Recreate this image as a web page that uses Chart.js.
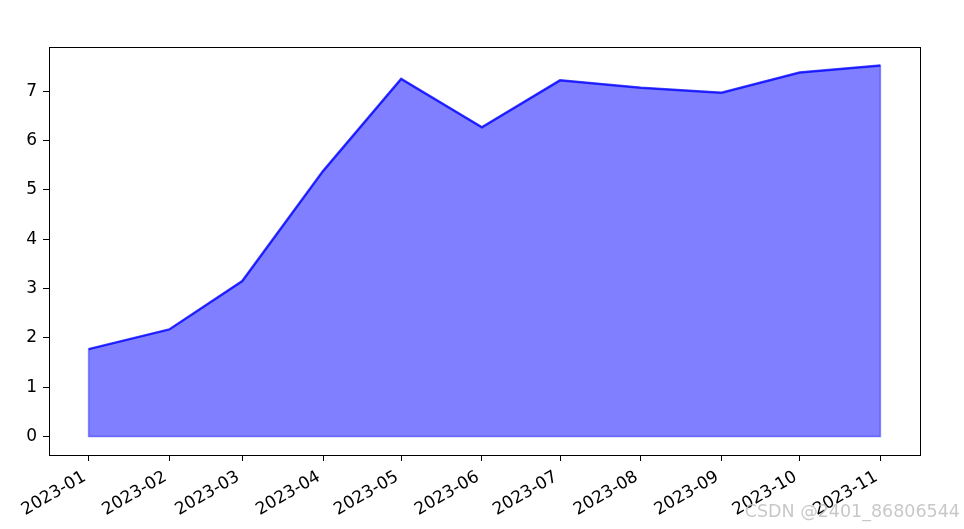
<!DOCTYPE html>
<html>
<head>
<meta charset="utf-8">
<script src="https://cdn.jsdelivr.net/npm/chart.js@4/dist/chart.umd.min.js"></script>
<style>
  html, body { margin: 0; padding: 0; background: #fff; }
  #wrap { position: relative; width: 964px; height: 529px; }
  #wm { position: absolute; right: 4px; top: 501px; font-family: "DejaVu Sans", sans-serif; font-size: 17.5px; color: rgba(190,190,190,0.85); white-space: nowrap; }
</style>
</head>
<body>
<div id="wrap">
  <canvas id="c" width="964" height="529"></canvas>
  <div id="wm">CSDN @2401_86806544</div>
</div>
<script>
const months = ['2023-01','2023-02','2023-03','2023-04','2023-05','2023-06','2023-07','2023-08','2023-09','2023-10','2023-11'];
const values = [1.77, 2.17, 3.15, 5.38, 7.25, 6.27, 7.22, 7.07, 6.97, 7.38, 7.52];
const yTicks = [0, 1, 2, 3, 4, 5, 6, 7];

const base = Date.UTC(2023, 0, 1);
const dayOf = s => { const [y, m] = s.split('-').map(Number); return (Date.UTC(y, m - 1, 1) - base) / 86400000; };
const days = months.map(dayOf);
const span = days[days.length - 1] - days[0];
const points = days.map((d, i) => ({ x: d, y: values[i] }));
const vmax = Math.max(...values);
const last = days.length - 1;
const edgePts = [
  { x: days[0], y: values[0] }, { x: days[0], y: 0 },
  { x: days[last], y: 0 }, { x: days[last], y: values[last] }
];

const boxPlugin = {
  id: 'box',
  afterDraw(chart) {
    const { ctx, chartArea: a } = chart;
    ctx.save();
    ctx.strokeStyle = '#000';
    ctx.lineWidth = 1;
    ctx.strokeRect(Math.round(a.left) + 0.5, Math.round(a.top) + 0.5, Math.round(a.right - a.left), Math.round(a.bottom - a.top));
    ctx.restore();
  }
};

const tickFont = { family: 'DejaVu Sans', size: 17 };

new Chart(document.getElementById('c'), {
  type: 'line',
  data: {
    datasets: [
      {
        data: points,
        fill: 'origin',
        backgroundColor: 'rgba(0,0,255,0.5)',
        borderColor: 'rgba(0,0,255,0.5)',
        borderWidth: 1.5,
        pointRadius: 0,
        tension: 0,
        order: 2
      },
      {
        data: edgePts,
        fill: false,
        borderColor: 'rgba(0,0,255,0.45)',
        borderWidth: 1.5,
        pointRadius: 0,
        tension: 0,
        order: 1
      },
      {
        data: points,
        fill: false,
        borderColor: 'rgba(0,0,255,0.7)',
        borderWidth: 2.5,
        pointRadius: 0,
        tension: 0,
        order: 0
      }
    ]
  },
  options: {
    responsive: false,
    animation: false,
    devicePixelRatio: 1,
    layout: { padding: { top: 47, right: 44, left: 0, bottom: 0 } },
    plugins: { legend: { display: false }, tooltip: { enabled: false } },
    scales: {
      x: {
        type: 'linear',
        min: days[0] - 0.05 * span,
        max: days[last] + 0.05 * span,
        afterBuildTicks: s => { s.ticks = days.map(v => ({ value: v })); },
        afterFit: s => { s.height = 74; },
        grid: { drawOnChartArea: false, tickLength: 6, color: '#000', tickWidth: 1 },
        border: { display: false },
        ticks: {
          autoSkip: false,
          maxRotation: 30,
          minRotation: 30,
          padding: 6,
          labelOffset: -4,
          color: '#000',
          font: tickFont,
          callback: v => { const i = days.indexOf(v); return i >= 0 ? months[i] : ''; }
        }
      },
      y: {
        type: 'linear',
        min: -0.05 * vmax,
        max: vmax * 1.05,
        afterBuildTicks: s => { s.ticks = yTicks.map(v => ({ value: v })); },
        afterFit: s => { s.width = 49; },
        grid: { drawOnChartArea: false, tickLength: 6, color: '#000', tickWidth: 1 },
        border: { display: false },
        ticks: {
          padding: 6,
          color: '#000',
          font: tickFont,
          callback: v => String(v)
        }
      }
    }
  },
  plugins: [boxPlugin]
});
</script>
</body>
</html>
